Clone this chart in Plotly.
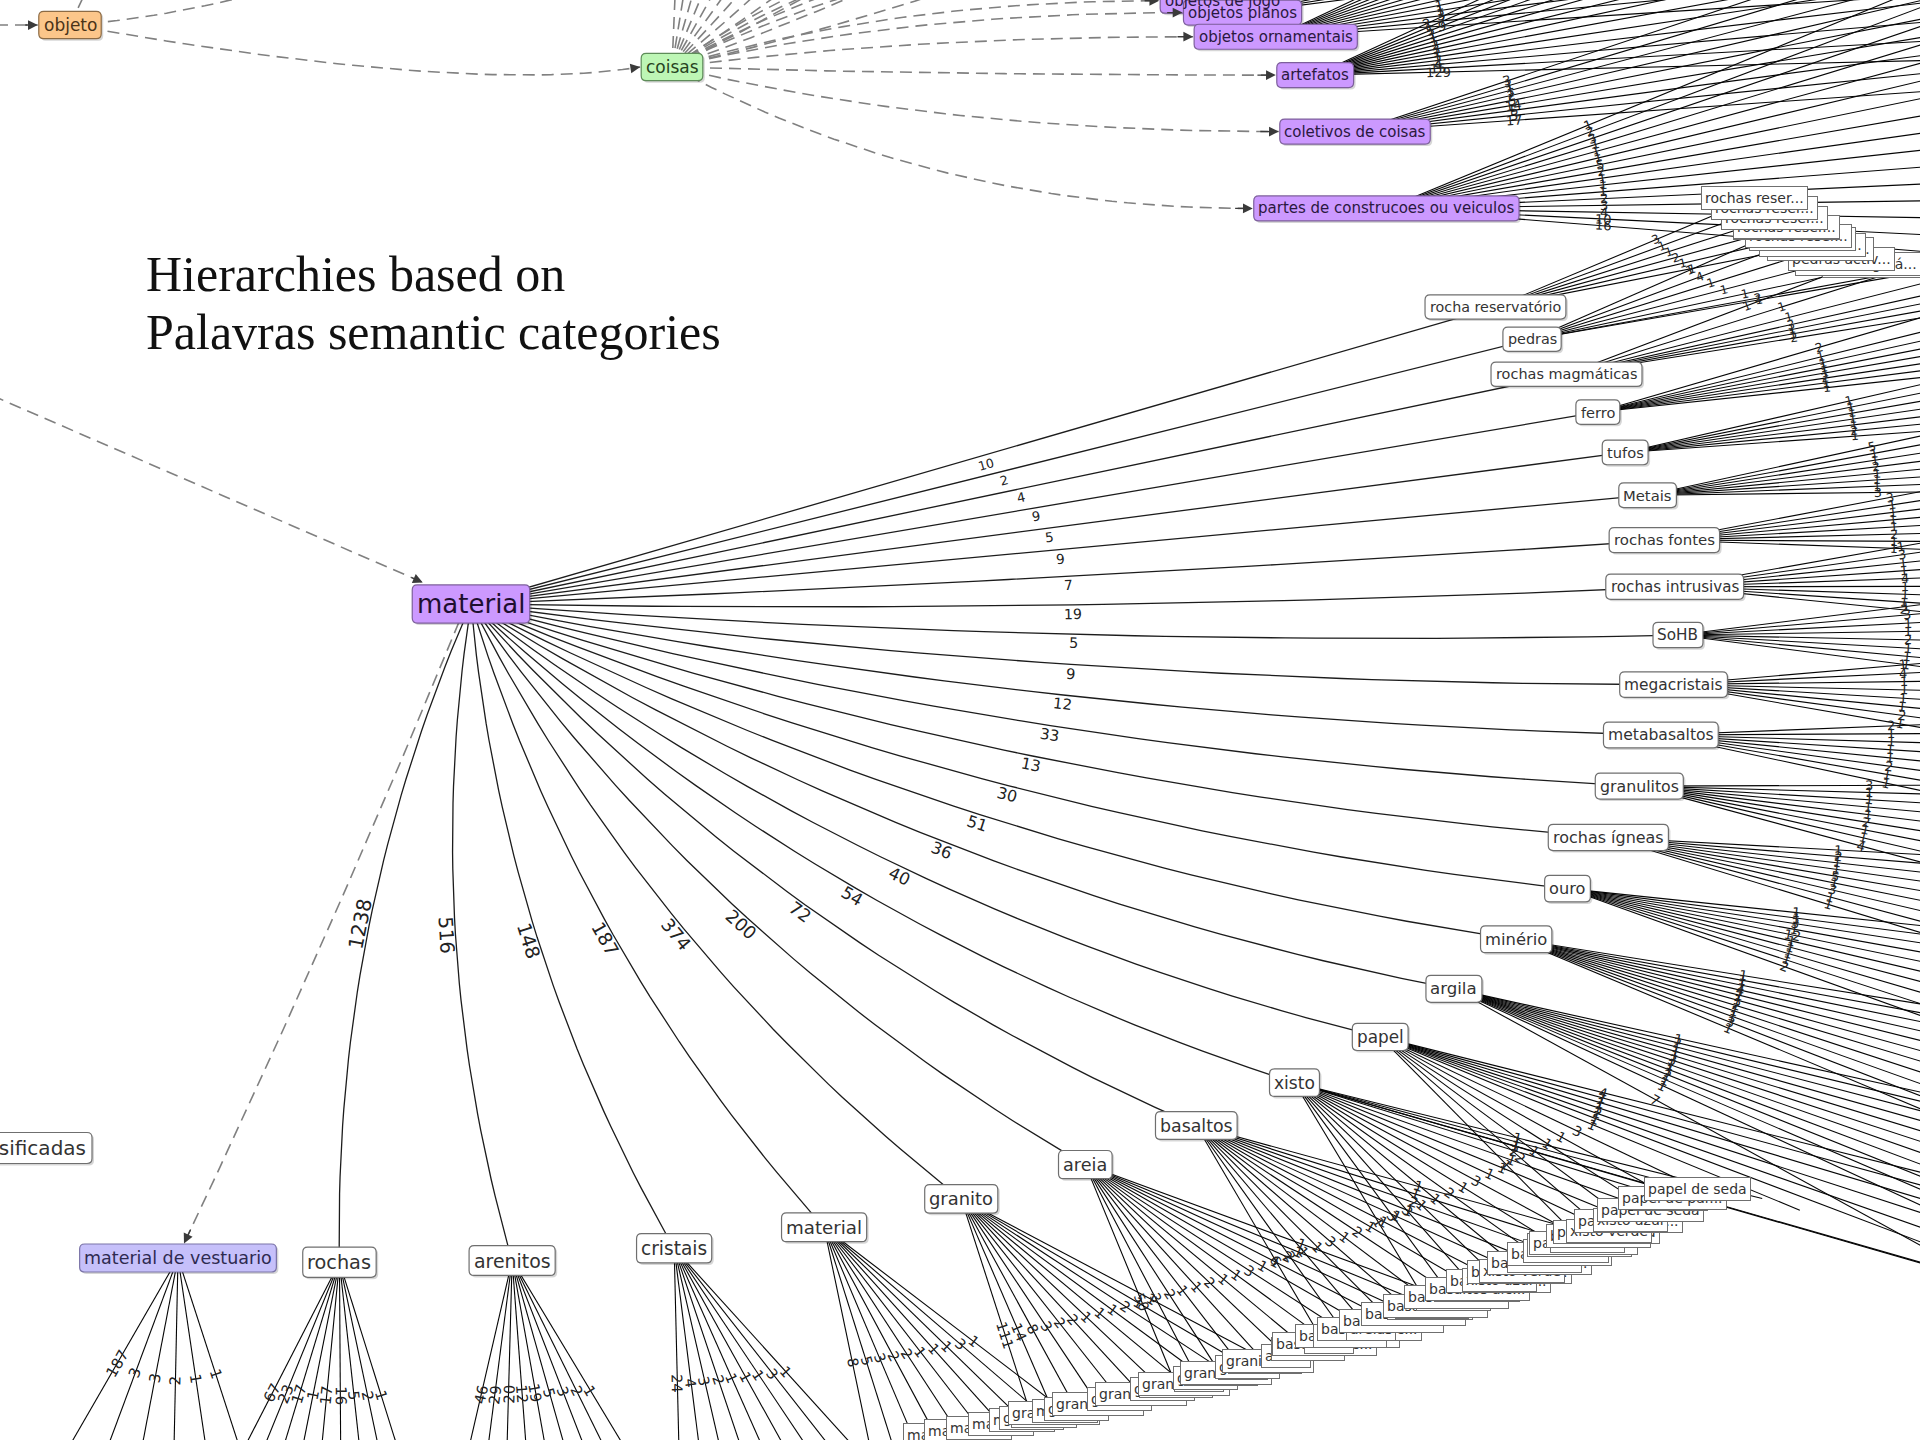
import math
import plotly.graph_objects as go

# ============================ DATA ============================
TITLE_LINES = ["Hierarchies based on", "Palavras semantic categories"]

ROOT_NODE = "objeto"
HUB_NODE = "coisas"
FOCUS_NODE = "material"
SIDE_NODE = "material de vestuario"
SIDE_FAN_WEIGHTS = [187, 3, 3, 2, 1, 1]
PARTIAL_NODE = "substâncias classificadas"

HUB_CHILDREN = ["objetos de jogo", "objetos planos", "objetos ornamentais",
                "artefatos", "coletivos de coisas",
                "partes de construcoes ou veiculos"]
HUB_FAN_WEIGHTS = [
    [16, 3, 2, 1, 1, 2, 1, 1, 4, 1, 1, 2],
    [18, 5, 2, 1, 1, 1, 3, 1, 2, 1],
    [9, 7, 3, 1, 1, 2, 1, 1, 12, 2, 1, 1, 3],
    [129, 15, 4, 2, 1, 1, 3, 2, 1, 1, 1, 5, 1, 2],
    [17, 5, 5, 14, 5, 2, 1, 1, 3],
    [16, 10, 4, 3, 2, 1, 1, 1, 2, 5, 1, 1, 1, 3, 2, 1],
]
HUB_HIDDEN_NEAR = 4
HUB_HIDDEN_FAR = 12

CHILDREN = ["rocha reservatório", "pedras", "rochas magmáticas", "ferro", "tufos",
            "Metais", "rochas fontes", "rochas intrusivas", "SoHB", "megacristais",
            "metabasaltos", "granulitos", "rochas ígneas", "ouro", "minério",
            "argila", "papel", "xisto", "basaltos", "areia", "granito",
            "material", "cristais", "arenitos", "rochas"]
CHILD_WEIGHTS = [10, 2, 4, 9, 5, 9, 7, 19, 5, 9, 12, 33, 13, 30, 51,
                 36, 40, 54, 72, 200, 374, 187, 148, 516, 1238]
GRANDCHILD_WEIGHTS = [
    [1, 1, 2, 1, 1, 3],
    [1, 2, 1, 1, 1, 4, 1],
    [2, 1, 1, 3, 1, 1, 1],
    [1, 1, 2, 1, 1, 1, 1, 2],
    [1, 2, 1, 1, 1, 1, 1],
    [3, 1, 1, 1, 2, 1, 1, 5],
    [1, 1, 2, 1, 1, 1, 1, 3],
    [2, 1, 1, 1, 4, 1, 1, 3, 1],
    [1, 1, 1, 2, 1, 1, 3, 1],
    [1, 2, 1, 1, 1, 1, 4, 1],
    [1, 1, 2, 1, 1, 1, 1, 2],
    [4, 1, 1, 2, 1, 1, 1, 1, 3],
    [1, 1, 3, 1, 5, 1, 1, 2, 1],
    [2, 1, 1, 1, 1, 12, 1, 3, 1, 1],
    [1, 3, 1, 1, 2, 1, 1, 4, 1, 1, 1],
    [7, 1, 1, 2, 1, 1, 3, 1, 1, 1, 2, 1],
    [1, 2, 1, 1, 1, 3, 1, 1, 2, 1, 1, 1, 4],
    [1, 3, 3, 1, 1, 2, 1, 3, 1, 1, 1, 2, 1, 1, 1, 1],
    [6, 2, 1, 1, 3, 1, 2, 1, 1, 1, 1, 2, 1, 1],
    [50, 3, 2, 1, 1, 2, 1, 1, 3, 1, 1, 2, 1, 1],
    [111, 14, 8, 3, 2, 2, 1, 1, 1, 2, 1, 1],
    [8, 5, 3, 2, 2, 1, 1, 1, 3, 1],
    [24, 4, 3, 2, 1, 1, 1, 3, 1],
    [46, 29, 20, 12, 19, 5, 3, 2, 1],
    [67, 23, 17, 1, 17, 16, 5, 2, 1],
]
GRANDCHILD_NAMES = {
    "rocha reservatório": ["rochas reservatório"],
    "pedras": ["pedras activadas"],
    "rochas magmáticas": ["rochas magmáticas"],
    "papel": ["papel de parede", "papel de seda"],
    "xisto": ["xisto verde", "xisto azul"],
    "basaltos": ["basaltos alcalinos"],
    "areia": ["areia fina", "areias"],
    "granito": ["granitos", "granito rosa"],
    "material": ["material"],
}

# ============================ LAYOUT / STYLE ============================
W, H = 1920, 1440
FONT = "DejaVu Sans"
FOCUS_POS = (471.0, 604.0)
ROOT_POS = (70.0, 25.0)
HUB_POS = (672.0, 67.0)
SIDE_POS = (178.0, 1258.0)
PARTIAL_RIGHT = (92.0, 1148.0)
TITLE_X, TITLE_Y0, TITLE_LEAD = 144.0, 274.0, 58.0

ELL_C = (400.0, 632.0)
ELL_A, ELL_B = 1278.0, 631.0
PHI0 = -31.0
HUB_ARC_C = (1062.0, 296.0)
HUB_ARC_R = 336.0
PSI0 = -61.5
FAN_FOCUS = (-600.0, 520.0)

PURPLE, PURPLE_B = "#cc99ff", "#7d5f9c"
PERI, PERI_B = "#c6c0fa", "#7b74a8"
ORANGE, ORANGE_B = "#fcc68a", "#8c6b45"
GREEN, GREEN_B = "#bdf6b5", "#5e8c59"
WHITE_B = "#6f6f6f"

DV = {'a': .613, 'b': .635, 'c': .55, 'd': .635, 'e': .615, 'f': .352, 'g': .635,
      'h': .634, 'i': .278, 'j': .278, 'k': .579, 'l': .278, 'm': .974, 'n': .634,
      'o': .612, 'p': .635, 'q': .635, 'r': .411, 's': .521, 't': .392, 'u': .634,
      'v': .592, 'w': .818, 'x': .592, 'y': .592, 'z': .525, ' ': .318, 'ó': .612,
      'í': .278, 'á': .613, 'é': .615, 'â': .613,
      'M': .863, 'S': .635, 'H': .752, 'B': .686}


def text_w(s, size):
    return sum(DV.get(ch, 0.68) for ch in s) * size


def clamp(v, a, b):
    return max(a, min(b, v))


def child_phi(i):
    return PHI0 + sum(3.35 + 0.2 * k - 0.0105 * k * k + 0.00044 * k ** 3 for k in range(i))


def hub_psi(j):
    return PSI0 + sum((4.0 if k == 0 else 4.6) + 2.4 * k for k in range(j))


def outer_scale(phi):
    l1 = 1.0 / (1.0 + math.exp((phi - 39.3) / 0.35))
    l2 = 1.0 / (1.0 + math.exp(-(phi + 24.5) / 0.6))
    return 1.34 + 0.6 * l1 * l2 - 0.08 * math.exp(-((phi + 31.0) / 9.0) ** 2)


def fan_spacing(phi):
    return (22 + 22 * math.exp(-((phi - 5) / 25.0) ** 2)
            - 10 * math.exp(-((phi + 31) / 8.0) ** 2))


def ell(phi, s):
    r = math.radians(phi)
    return (ELL_C[0] + s * ELL_A * math.cos(r), ELL_C[1] + s * ELL_B * math.sin(r))


def qpt(p0, c, p1, t):
    a, b, d = (1 - t) ** 2, 2 * (1 - t) * t, t * t
    return (a * p0[0] + b * c[0] + d * p1[0], a * p0[1] + b * c[1] + d * p1[1])


def add_curve(store, p0, c, p1, n=40):
    for s in range(n + 1):
        p = qpt(p0, c, p1, s / n)
        store[0].append(p[0])
        store[1].append(p[1])
    store[0].append(None)
    store[1].append(None)


def add_line(store, p0, p1):
    store[0].extend([p0[0], p1[0], None])
    store[1].extend([p0[1], p1[1], None])


def inside(p, m=0.0):
    return m <= p[0] <= W - m and m <= p[1] <= H - m


def norm_angle(a):
    while a > 90:
        a -= 180
    while a < -90:
        a += 180
    return a


def label_ann(text, p, angle, size, color="#222"):
    return dict(x=p[0], y=p[1], xref="x", yref="y", text=text, showarrow=False,
                textangle=angle, font=dict(family=FONT, size=size, color=color),
                xanchor="center", yanchor="middle")


def node_ann(text, p, size, bg, border, color="#333", pad=3):
    return dict(x=p[0], y=p[1], xref="x", yref="y", text=text, showarrow=False,
                font=dict(family=FONT, size=size, color=color), bgcolor=bg,
                bordercolor=border, borderwidth=1, borderpad=pad,
                xanchor="center", yanchor="middle")


def arrow_ann(tip, tail):
    return dict(x=tip[0], y=tip[1], ax=tail[0], ay=tail[1], xref="x", yref="y",
                axref="x", ayref="y", text="", showarrow=True, arrowhead=2,
                arrowsize=1.5, arrowwidth=1.3, arrowcolor="#3a3a3a", standoff=0)


def rrect_path(x0, y0, x1, y1, r):
    return (f"M{x0 + r},{y0} L{x1 - r},{y0} Q{x1},{y0} {x1},{y0 + r} "
            f"L{x1},{y1 - r} Q{x1},{y1} {x1 - r},{y1} L{x0 + r},{y1} "
            f"Q{x0},{y1} {x0},{y1 - r} L{x0},{y0 + r} Q{x0},{y0} {x0 + r},{y0} Z")


shapes = []
box_text_anns = []


def add_box(text, p, size, fill, border, color="#333", padx=4.5, pady=3.5, anchor="center"):
    w = text_w(text, size) + 2 * padx
    h = size * 1.2 + 2 * pady
    if anchor == "right":
        x1 = p[0]
        x0 = x1 - w
        tx, txa = x1 - padx, "right"
    else:
        x0 = p[0] - w / 2
        x1 = p[0] + w / 2
        tx, txa = p[0], "center"
    y0, y1 = p[1] - h / 2, p[1] + h / 2
    shapes.append(dict(type="path", xref="x", yref="y", layer="above",
                       path=rrect_path(x0 + 2, y0 + 2, x1 + 2, y1 + 2, 5),
                       fillcolor="rgba(0,0,0,0.16)", line=dict(width=0)))
    shapes.append(dict(type="path", xref="x", yref="y", layer="above",
                       path=rrect_path(x0, y0, x1, y1, 5),
                       fillcolor=fill, line=dict(color=border, width=1.2)))
    box_text_anns.append(dict(x=tx, y=p[1], xref="x", yref="y", text=text,
                              showarrow=False, xanchor=txa, yanchor="middle",
                              font=dict(family=FONT, size=size, color=color)))
    return x0, y0, x1, y1


def trunc(s):
    return s if len(s) <= 14 else s[:12] + "..."


solid = ([], [])
fan = ([], [])
dashed = ([], [])
lab_anns, arrow_anns, gc_anns = [], [], []
gcs = []

M = FOCUS_POS

# ---------- material -> children (solid, labelled) ----------
child_pos = []
for i, (name, wgt) in enumerate(zip(CHILDREN, CHILD_WEIGHTS)):
    phi = child_phi(i)
    u = clamp((phi - PHI0) / 124.0, 0, 1)
    P = ell(phi, 1.0)
    child_pos.append((phi, P, u))
    dx, dy = P[0] - M[0], P[1] - M[1]
    L = math.hypot(dx, dy)
    pc = (-dy / L, dx / L)
    frac = 0.055 * clamp((phi + 12.0) / 55.0, 0, 1)
    mid = ((M[0] + P[0]) / 2, (M[1] + P[1]) / 2)
    ctrl = (mid[0] + pc[0] * 2 * frac * L, mid[1] + pc[1] * 2 * frac * L)
    add_curve(solid, M, ctrl, P)
    lp = qpt(M, ctrl, P, 0.5)
    lp = (lp[0] + pc[0] * 9, lp[1] + pc[1] * 9)
    ang = norm_angle(math.degrees(math.atan2(dy, dx)))
    lab_anns.append(label_ann(str(wgt), lp, ang, 12.5 + 7.5 * u))

    # grandchildren fan
    wl = GRANDCHILD_WEIGHTS[i]
    n = len(wl)
    r = math.radians(phi)
    dsd = outer_scale(phi) * math.hypot(ELL_A * math.sin(r), ELL_B * math.cos(r))
    dphi = math.degrees(fan_spacing(phi) / dsd)
    names = GRANDCHILD_NAMES.get(name, [name])
    for k, gw in enumerate(wl):
        pg = phi + dphi * ((n - 1) / 2.0 - k)
        sg = outer_scale(pg)
        G = ell(pg, sg)
        add_line(fan, P, G)
        gl = math.hypot(G[0] - P[0], G[1] - P[1])
        dist = min(0.62 * gl, 230.0)
        lp = (P[0] + dist * (G[0] - P[0]) / gl, P[1] + dist * (G[1] - P[1]) / gl)
        if inside(lp, 4):
            ang = norm_angle(math.degrees(math.atan2(G[1] - P[1], G[0] - P[0])))
            lab_anns.append(label_ann(str(gw), lp, ang, 12 + 3 * u))
        gcs.append((pg, G, sg, trunc(names[k % len(names)])))

for pg, G, sg, txt in sorted(gcs, key=lambda g: -g[0]):
    if inside(G, 2) and sg < 1.37:
        gc_anns.append(node_ann(txt, G, 14, "white", WHITE_B, pad=3))

for (phi, P, u), name in zip(child_pos, CHILDREN):
    add_box(name, P, 14.3 + 5.0 * u ** 1.2, "white", WHITE_B)

# ---------- material de vestuario ----------
vest_size = 17.5
n = len(SIDE_FAN_WEIGHTS)
for k, gw in enumerate(SIDE_FAN_WEIGHTS):
    th = math.radians(120 - k * 48.0 / (n - 1))
    G = (SIDE_POS[0] + 320 * math.cos(th), SIDE_POS[1] + 320 * math.sin(th))
    add_line(fan, SIDE_POS, G)
    lp = (SIDE_POS[0] + 122 * math.cos(th), SIDE_POS[1] + 122 * math.sin(th))
    lab_anns.append(label_ann(str(gw), lp, norm_angle(math.degrees(th)), 15))
v_top = (SIDE_POS[0] + 6, SIDE_POS[1] - (vest_size * 0.6 + 4))
m_bot = (M[0] - 12, M[1] + 18)
vmid = ((v_top[0] + m_bot[0]) / 2 + 10, (v_top[1] + m_bot[1]) / 2)
add_curve(dashed, m_bot, vmid, v_top)
tail = qpt(m_bot, vmid, v_top, 0.975)
arrow_anns.append(arrow_ann(v_top, tail))
add_box(SIDE_NODE, SIDE_POS, vest_size, PERI, PERI_B, "#2e2a50")

# ---------- hub (coisas) children ----------
hub_size = 15
for j, (name, wl) in enumerate(zip(HUB_CHILDREN, HUB_FAN_WEIGHTS)):
    psi = math.radians(hub_psi(j))
    P = (HUB_ARC_C[0] + HUB_ARC_R * math.cos(psi), HUB_ARC_C[1] + HUB_ARC_R * math.sin(psi))
    th0 = math.degrees(math.atan2(P[1] - FAN_FOCUS[1], P[0] - FAN_FOCUS[0]))
    n = len(wl)
    half = text_w(name, hub_size) / 2 + 4.5
    for k, gw in enumerate(wl):
        th = math.radians(th0 + 1.8 * ((n - 1) / 2.0 - k))
        G = (P[0] + 900 * math.cos(th), P[1] + 900 * math.sin(th))
        add_line(fan, P, G)
        dl = half + 85
        lp = (P[0] + dl * math.cos(th), P[1] + dl * math.sin(th))
        if inside(lp, 4):
            lab_anns.append(label_ann(str(gw), lp, norm_angle(math.degrees(th)), 13))
    left = (P[0] - half - 1, P[1])
    ctrl = (HUB_POS[0] + 0.45 * (left[0] - HUB_POS[0]), left[1])
    add_curve(dashed, HUB_POS, ctrl, left)
    arrow_anns.append(arrow_ann(left, qpt(HUB_POS, ctrl, left, 0.97)))
    add_box(name, P, hub_size, PURPLE, PURPLE_B, "#2a1840")

for m in range(HUB_HIDDEN_NEAR):
    psi = math.radians(PSI0 - 4.0 * (m + 1))
    T = (HUB_ARC_C[0] + 390 * math.cos(psi), HUB_ARC_C[1] + 390 * math.sin(psi))
    add_curve(dashed, HUB_POS, (HUB_POS[0] + 0.45 * (T[0] - HUB_POS[0]), T[1]), T)
for m in range(HUB_HIDDEN_FAR):
    a = math.radians(-92 + 74.0 * m / (HUB_HIDDEN_FAR - 1))
    T = (HUB_POS[0] + 560 * math.cos(a), HUB_POS[1] + 560 * math.sin(a))
    mid = ((HUB_POS[0] + T[0]) / 2 - 25 * math.sin(a), (HUB_POS[1] + T[1]) / 2 + 25 * math.cos(a))
    add_curve(dashed, HUB_POS, mid, T)

# ---------- objeto and its links ----------
root_size, hubn_size = 17, 17
root_left = (ROOT_POS[0] - text_w(ROOT_NODE, root_size) / 2 - 5.5, ROOT_POS[1])
add_line(dashed, (-80, ROOT_POS[1]), root_left)
arrow_anns.append(arrow_ann(root_left, (root_left[0] - 14, root_left[1])))
hub_left = (HUB_POS[0] - text_w(HUB_NODE, hubn_size) / 2 - 5.5, HUB_POS[1])
c_rh = (ROOT_POS[0] + 0.7 * (hub_left[0] - ROOT_POS[0]), hub_left[1] + 28)
add_curve(dashed, ROOT_POS, c_rh, hub_left)
arrow_anns.append(arrow_ann(hub_left, qpt(ROOT_POS, c_rh, hub_left, 0.97)))
add_curve(dashed, ROOT_POS, (300, 10), (640, -150))
add_line(dashed, ROOT_POS, (115, -70))

# incoming link to material from upper left
mat_size = 26
mat_tl = (M[0] - text_w(FOCUS_NODE, mat_size) / 2 + 6, M[1] - mat_size * 0.6 - 6)
start = (-60.0, mat_tl[1] - 0.434 * (mat_tl[0] + 60.0))
add_line(dashed, start, mat_tl)
d = math.hypot(mat_tl[0] - start[0], mat_tl[1] - start[1])
arrow_anns.append(arrow_ann(mat_tl, (mat_tl[0] - 14 * (mat_tl[0] - start[0]) / d,
                                     mat_tl[1] - 14 * (mat_tl[1] - start[1]) / d)))

add_box(ROOT_NODE, ROOT_POS, root_size, ORANGE, ORANGE_B, "#4a3318")
add_box(HUB_NODE, HUB_POS, hubn_size, GREEN, GREEN_B, "#27431f")
add_box(FOCUS_NODE, M, mat_size, PURPLE, PURPLE_B, "#1e0f30")
add_box(PARTIAL_NODE, PARTIAL_RIGHT, 20, "white", WHITE_B, anchor="right")

title_anns = []
for li, line in enumerate(TITLE_LINES):
    title_anns.append(dict(x=TITLE_X, y=TITLE_Y0 + li * TITLE_LEAD, xref="x", yref="y",
                           text=line, showarrow=False, xanchor="left", yanchor="middle",
                           font=dict(family="Liberation Serif", size=50, color="#111")))

fig = go.Figure()
fig.add_trace(go.Scatter(x=dashed[0], y=dashed[1], mode="lines", hoverinfo="skip",
                         line=dict(color="#808080", width=1.6, dash="12px,7px")))
fig.add_trace(go.Scatter(x=fan[0], y=fan[1], mode="lines", hoverinfo="skip",
                         line=dict(color="#050505", width=1.1)))
fig.add_trace(go.Scatter(x=solid[0], y=solid[1], mode="lines", hoverinfo="skip",
                         line=dict(color="#1c1c1c", width=1.3)))

fig.update_layout(
    width=W, height=H, margin=dict(l=0, r=0, t=0, b=0),
    paper_bgcolor="white", plot_bgcolor="white", showlegend=False,
    xaxis=dict(range=[0, W], visible=False, fixedrange=True),
    yaxis=dict(range=[H, 0], visible=False, fixedrange=True),
    shapes=shapes,
    annotations=lab_anns + arrow_anns + gc_anns + box_text_anns + title_anns,
)

fig.write_html("out.html", config={"displayModeBar": False},
               post_script="document.body.style.margin='0';document.body.style.overflow='hidden';")
